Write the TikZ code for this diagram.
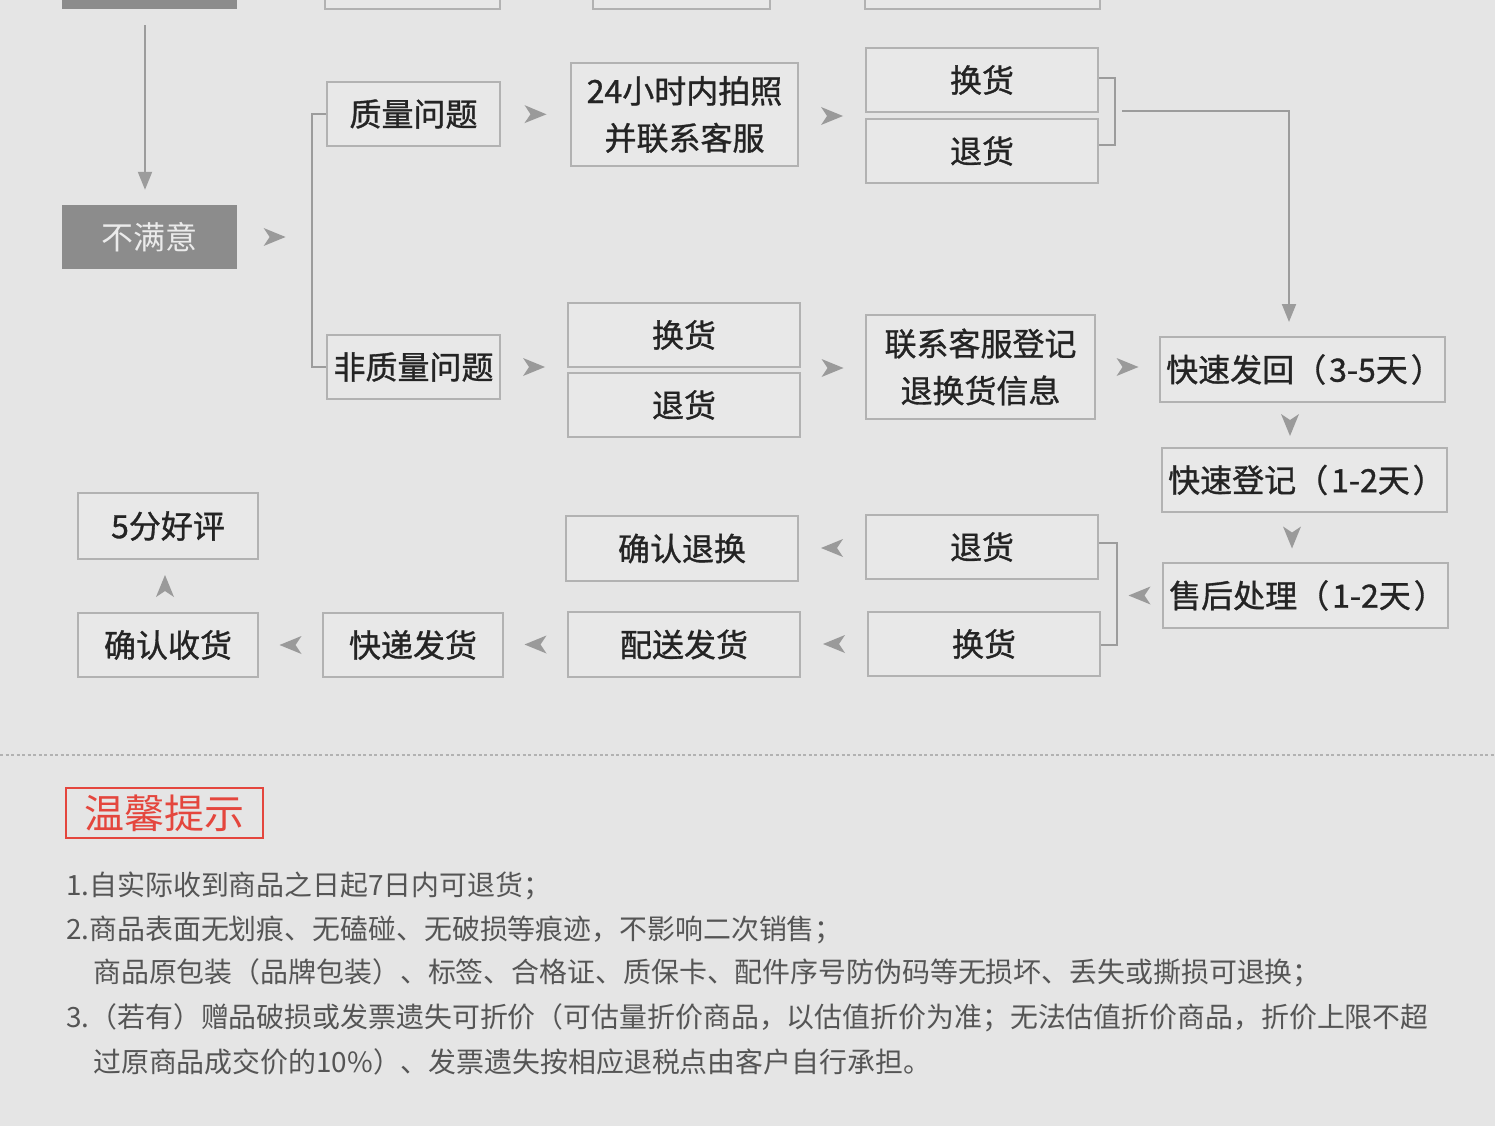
\documentclass[tikz,border=0pt]{standalone}
\usepackage{fontspec}
\newfontfamily\cjk{Noto Sans CJK SC}
\newfontfamily\cjkb[FakeBold=1]{Noto Sans CJK SC}
\usetikzlibrary{arrows.meta,decorations.markings,calc}
\definecolor{bgc}{HTML}{E5E5E5}
\definecolor{boxfill}{HTML}{E8E8E8}
\definecolor{boxline}{HTML}{B2B2B2}
\definecolor{darkbox}{HTML}{8C8C8C}
\definecolor{linec}{HTML}{9C9C9C}
\definecolor{chevc}{HTML}{9A9A9A}
\definecolor{txt}{HTML}{242424}
\definecolor{bodytxt}{HTML}{555555}
\definecolor{tipred}{HTML}{E4463D}
\tikzset{
  stepbox/.style={draw=boxline, line width=2pt, fill=boxfill, inner sep=0pt, text=txt,
    minimum height=64pt, align=center, font=\cjkb\fontsize{32}{47}\selectfont},
  darkstep/.style={fill=darkbox, inner sep=0pt, minimum height=64pt, text=white!92!black,
    font=\cjk\fontsize{32}{40}\selectfont},
  conn/.style={draw=linec, line width=2pt},
  tri/.style={-{Triangle[length=18pt,width=14pt]}},
  chev/.style={decorate, decoration={markings, mark=at position 0.5 with
    {\fill[chevc] (-11,-9) -- (11,0) -- (-11,9) -- (-5,0) -- cycle;}}},
  bodyline/.style={anchor=west, inner sep=0pt, text=bodytxt, font=\cjk\fontsize{27.9}{30}\selectfont}
}
\begin{document}
\begin{tikzpicture}[x=1pt,y=-1pt]
\useasboundingbox (0,0) rectangle (1500,1142);
\fill[white] (0,0) rectangle (1500,1142);
\fill[bgc] (0,0) rectangle (1495,1126);
\begin{scope}
\clip (0,0) rectangle (1495,1126);
% partially visible boxes at the top
\node[darkstep, minimum width=175pt] (topA) at (149.5,-23) {};
\node[stepbox, minimum width=175pt] (topB) at (412.5,-23) {};
\node[stepbox, minimum width=177pt] (topC) at (681.5,-23) {};
\node[stepbox, minimum width=235pt] (topD) at (982.5,-23) {};
\end{scope}

% first column
\node[darkstep, minimum width=175pt] (bmy) at (149.5,237) {不满意};
\node[stepbox, minimum width=173pt] (zl) at (413.5,114) {质量问题};
\node[stepbox, minimum width=173pt] (fzl) at (413.5,367) {非质量问题};

% quality branch
\node[stepbox, minimum width=227pt, minimum height=103pt] (p24) at (684.5,114.5) {24小时内拍照\\并联系客服};
\node[stepbox, minimum width=232pt] (hh1) at (982,80) {换货};
\node[stepbox, minimum width=232pt] (th1) at (982,151) {退货};

% non-quality branch
\node[stepbox, minimum width=232pt] (hh2) at (684,335) {换货};
\node[stepbox, minimum width=232pt] (th2) at (684,405) {退货};
\node[stepbox, minimum width=229pt, minimum height=104pt] (lx) at (980.5,367) {联系客服登记\\退换货信息};

% right column
\node[stepbox, minimum width=285pt, minimum height=65pt] (kf) at (1302.5,369.5) {\hspace{4pt}快速发回（\hspace{3pt}3-5天\hspace{3pt}）};
\node[stepbox, minimum width=285pt] (kd) at (1304.5,480) {\hspace{4pt}快速登记（\hspace{3pt}1-2天\hspace{3pt}）};
\node[stepbox, minimum width=285pt, minimum height=65pt] (sh) at (1305.5,595.5) {\hspace{4pt}售后处理（\hspace{3pt}1-2天\hspace{3pt}）};

% bottom rows
\node[stepbox, minimum width=232pt] (th3) at (982,547) {退货};
\node[stepbox, minimum width=232pt] (hh3) at (984,644) {换货};
\node[stepbox, minimum width=232pt, minimum height=65pt] (qrth) at (682,548.5) {确认退换};
\node[stepbox, minimum width=232pt, minimum height=65pt] (psfh) at (684,644.5) {配送发货};
\node[stepbox, minimum width=180pt] (kdfh) at (413,645) {快递发货};
\node[stepbox, minimum width=180pt] (qrsh) at (168,645) {确认收货};
\node[stepbox, minimum width=180pt, minimum height=66pt] (hp) at (168,526) {5分好评};

% connectors
\draw[conn, tri] ([xshift=-4.5pt, yshift=-16pt]topA.south) -- ([xshift=-4.5pt, yshift=15pt]bmy.north);
\coordinate (brk) at (312,237);
\path[chev] (bmy.east) -- (brk);
\draw[conn] (zl.west) -| (brk) |- (fzl.west);
\path[chev] (zl.east) -- (p24.west);
\path[chev] ([yshift=-1.5pt]p24.east) -- ([yshift=-1.5pt]p24.east -| hh1.west);
\coordinate (brq) at (1115,111);
\draw[conn] ([yshift=2pt]hh1.east) -| (brq) |- ([yshift=6pt]th1.east);
\coordinate (brqo) at (1122,111);
\draw[conn, tri] (brqo) -| ([xshift=-13.5pt, yshift=14pt]kf.north);

\path[chev] (fzl.east) -- (fzl.east -| hh2.west);
\coordinate (m2) at (800,368);
\path[chev] (m2) -- (m2 -| lx.west);
\path[chev] (lx.east) -- (lx.east -| kf.west);
\path[chev] ([xshift=-12.5pt]kf.south) -- ([xshift=-14.5pt]kd.north);
\path[chev] ([xshift=-12.5pt]kd.south) -- ([xshift=-13.5pt]sh.north);

\coordinate (brb) at (1117,595.5);
\path[chev] (sh.west) -- (brb);
\draw[conn] ([yshift=4pt]th3.east) -| (brb) |- ([yshift=-1pt]hh3.east);
\path[chev] ([yshift=-1pt]th3.west) -- ([yshift=-1pt]th3.west -| qrth.east);
\path[chev] (hh3.west) -- (hh3.west -| psfh.east);
\path[chev] (psfh.west) -- (psfh.west -| kdfh.east);
\path[chev] (kdfh.west) -- (qrsh.east);
\path[chev] ([xshift=-3pt]qrsh.north) -- ([xshift=-3pt]hp.south);

% separator
\draw[draw=white!70!black, line width=1.5pt, dash pattern=on 3pt off 2.5pt] (0,755) -- (1495,755);

% tips
\node[draw=tipred, line width=2.5pt, minimum width=197pt, minimum height=50pt, inner sep=0pt,
  text=tipred, font=\cjk\fontsize{40}{44}\selectfont] (tip) at (164.5,813) {温馨提示};
\node[bodyline] (l1) at (66,886) {1.自实际收到商品之日起7日内可退货；};
\node[bodyline] (l2) at (66,930) {2.商品表面无划痕、无磕碰、无破损等痕迹，不影响二次销售；};
\node[bodyline] (l3) at (93,973) {商品原包装（品牌包装）、标签、合格证、质保卡、配件序号防伪码等无损坏、丢失或撕损可退换；};
\node[bodyline] (l4) at (66,1018) {3.（若有）赠品破损或发票遗失可折价（可估量折价商品，以估值折价为准；无法估值折价商品，折价上限不超};
\node[bodyline] (l5) at (93,1062) {过原商品成交价的10\%）、发票遗失按相应退税点由客户自行承担。};
\end{tikzpicture}
\end{document}
